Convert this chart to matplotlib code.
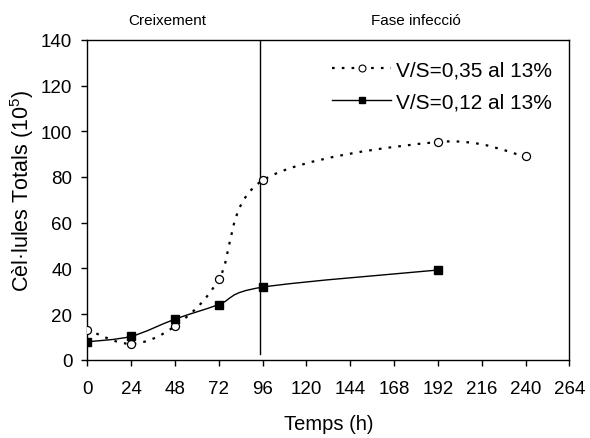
import matplotlib
matplotlib.use('Agg')
import matplotlib.pyplot as plt
from matplotlib.path import Path
from matplotlib.patches import PathPatch
from matplotlib.lines import Line2D

plt.rcParams['font.family'] = ['Liberation Sans', 'DejaVu Sans']
plt.rcParams['mathtext.default'] = 'regular'

# data
hours_035 = [0, 24, 48, 72, 96, 192, 240]
cells_035 = [13.2, 7.0, 14.8, 35.2, 78.5, 95.3, 89.0]
hours_012 = [0, 24, 48, 72, 96, 192]
cells_012 = [7.9, 10.3, 17.8, 24.2, 31.8, 39.3]
label_035 = 'V/S=0,35 al 13%'
label_012 = 'V/S=0,12 al 13%'
xticks = list(range(0, 265, 24))
yticks = list(range(0, 141, 20))
split_hour = 94.7
phase_labels = [('Creixement', 44), ('Fase infecció', 180)]


def smooth_path(xs, ys):
    # Excel-like smoothed line as cubic bezier segments
    pts = list(zip(xs, ys))
    n = len(pts)
    verts = [pts[0]]
    codes = [Path.MOVETO]
    for i in range(n - 1):
        p0 = pts[max(i - 1, 0)]
        p1 = pts[i]
        p2 = pts[i + 1]
        p3 = pts[min(i + 2, n - 1)]
        c1 = (p1[0] + (p2[0] - p0[0]) / 6, p1[1] + (p2[1] - p0[1]) / 6)
        c2 = (p2[0] - (p3[0] - p1[0]) / 6, p2[1] - (p3[1] - p1[1]) / 6)
        verts += [c1, c2, p2]
        codes += [Path.CURVE4] * 3
    return Path(verts, codes)


def main():
    fig = plt.figure(figsize=(5.9, 4.39), dpi=100)
    ax = fig.add_axes([0.148, 0.178, 0.817, 0.729])

    dotted = (0, (1.2, 3.2))
    ax.add_patch(PathPatch(smooth_path(hours_035, cells_035), facecolor='none',
                           edgecolor='black', lw=1.6, linestyle=dotted))
    ax.add_patch(PathPatch(smooth_path(hours_012, cells_012), facecolor='none',
                           edgecolor='black', lw=1.0))
    ax.plot(hours_035, cells_035, linestyle='none', marker='o', ms=5.8,
            mfc='white', mec='black', mew=0.9, zorder=5)
    ax.plot(hours_012, cells_012, linestyle='none', marker='s', ms=6,
            mfc='black', mec='black', zorder=5)

    ax.plot([split_hour, split_hour], [2.5, 140], color='black', lw=1.0)

    handles = [
        Line2D([], [], color='black', lw=1.6, linestyle=dotted, marker='o',
               ms=5, mfc='white', mec='black', mew=0.8),
        Line2D([], [], color='black', lw=1.0, marker='s', ms=4.5,
               mfc='black', mec='black'),
    ]
    ax.legend(handles, [label_035, label_012], loc='upper right', frameon=False,
              fontsize=15, handlelength=2.8, handletextpad=0.25,
              labelspacing=0.62, borderpad=0, borderaxespad=0,
              bbox_to_anchor=(0.964, 0.935))

    ax.set_xlim(0, 264)
    ax.set_ylim(0, 140)
    ax.set_xticks(xticks)
    ax.set_yticks(yticks)
    ax.tick_params(direction='out', length=4.3, width=1, labelsize=13.5,
                   top=False, right=False)
    ax.tick_params(axis='x', pad=10)
    ax.tick_params(axis='y', pad=6.5)
    for s in ax.spines.values():
        s.set_linewidth(1.0)

    ax.set_xlabel('Temps (h)', fontsize=14.5)
    ax.xaxis.set_label_coords(0.5, -0.169)
    ax.set_ylabel('Cèl·lules Totals (10$^{5}$)', fontsize=15.5)
    ax.yaxis.set_label_coords(-0.106, 0.532)

    for text, hx in phase_labels:
        ax.text(hx, 1.049, text, transform=ax.get_xaxis_transform(),
                ha='center', va='baseline', fontsize=11)

    fig.savefig('out.png', dpi=100)
    plt.close(fig)


if __name__ == '__main__':
    main()
